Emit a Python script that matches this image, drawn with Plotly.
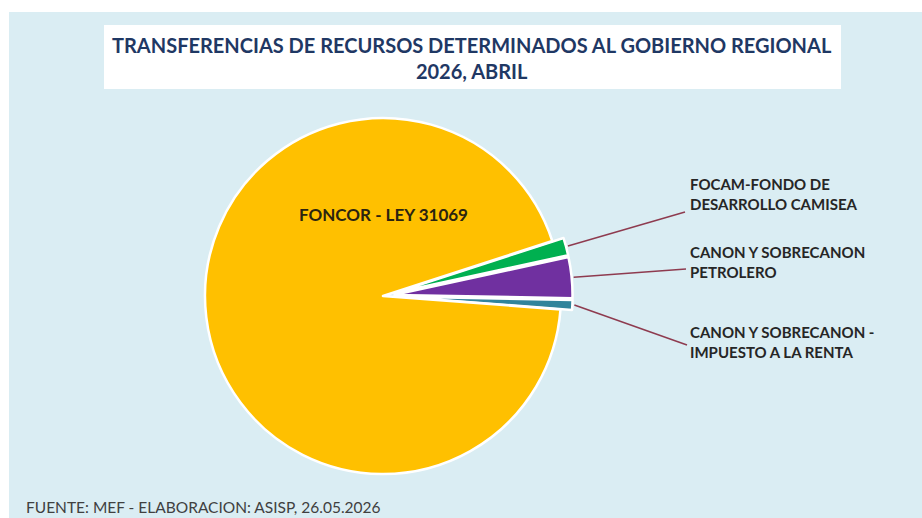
import math
import plotly.graph_objects as go

# ---- data ----
categories = ["FOCAM-FONDO DE<br>DESARROLLO CAMISEA",
              "CANON Y SOBRECANON<br>PETROLERO",
              "CANON Y SOBRECANON -<br>IMPUESTO A LA RENTA",
              "FONCOR - LEY 31069"]
values = [1.6, 3.7, 0.9, 93.8]
colors = ["#00B050", "#7030A0", "#31849B", "#FFC000"]
pulls = [0.065, 0.065, 0.065, 0.0]

title_text = "TRANSFERENCIAS DE RECURSOS DETERMINADOS AL GOBIERNO REGIONAL<br>2026, ABRIL"
footer_text = "FUENTE: MEF - ELABORACION: ASISP, 26.05.2026"

W, H = 922, 518
def px(x): return x / W
def py(y): return 1 - y / H

# pie geometry (pixels)
cx, cy, r = 383, 296, 178
rotation = 72
maxpull = max(pulls)
half = r * (1 + maxpull)

fig = go.Figure()
fig.add_trace(go.Pie(
    values=values, labels=categories, sort=False, direction="clockwise",
    rotation=rotation, pull=pulls, textinfo="none", hoverinfo="label+percent",
    marker=dict(colors=colors, line=dict(color="white", width=2.5)),
    domain=dict(x=[px(cx - half), px(cx + half)], y=[py(cy + half), py(cy - half)]),
    showlegend=False,
))

shapes = [
    dict(type="rect", xref="paper", yref="paper", x0=px(9), x1=px(922), y0=py(518), y1=py(12),
         fillcolor="#DAEDF3", line=dict(width=0), layer="below"),
    dict(type="rect", xref="paper", yref="paper", x0=px(104), x1=px(841), y0=py(89), y1=py(25),
         fillcolor="white", line=dict(width=0), layer="below"),
]

# leader lines from small slices to their labels
label_anchor = [(685, 212), (686, 269), (687, 345)]
label_pos = [(688, 194), (688, 262), (688, 342)]
total = sum(values)
start = 90 - rotation
cum = 0
annotations = []
for i, v in enumerate(values):
    a0 = start - cum / total * 360
    a1 = start - (cum + v) / total * 360
    cum += v
    if i >= 3:
        continue
    am = math.radians((a0 + a1) / 2)
    rr = r * (1 + pulls[i]) + 2
    x0 = cx + rr * math.cos(am)
    y0 = cy - rr * math.sin(am)
    ax, ay = label_anchor[i]
    shapes.append(dict(type="line", xref="paper", yref="paper", x0=px(x0), y0=py(y0),
                       x1=px(ax), y1=py(ay), line=dict(color="#8E3B4F", width=1.5)))
    lx, ly = label_pos[i]
    annotations.append(dict(x=px(lx), y=py(ly), xref="paper", yref="paper", text="<b>" + categories[i] + "</b>",
                            showarrow=False, xanchor="left", yanchor="middle", align="left",
                            font=dict(family="Lato", size=15, color="#262626")))

annotations.append(dict(x=px(383), y=py(214), xref="paper", yref="paper", text="<b>" + categories[3] + "</b>",
                        showarrow=False, xanchor="center", yanchor="middle",
                        font=dict(family="Lato", size=17, color="#2B2410")))
annotations.append(dict(x=px(472), y=py(58), xref="paper", yref="paper", text="<b>" + title_text + "</b>",
                        showarrow=False, xanchor="center", yanchor="middle", align="center",
                        font=dict(family="Lato", size=20, color="#1F3864")))
annotations.append(dict(x=px(24), y=py(507), xref="paper", yref="paper", text=footer_text,
                        showarrow=False, xanchor="left", yanchor="middle",
                        font=dict(family="Lato", size=15.5, color="#404040")))

fig.update_layout(width=W, height=H, margin=dict(l=0, r=0, t=0, b=0),
                  paper_bgcolor="white", plot_bgcolor="white",
                  shapes=shapes, annotations=annotations)
fig.write_html("out.html", config={"displayModeBar": False},
               post_script="document.body.style.margin='0';")
